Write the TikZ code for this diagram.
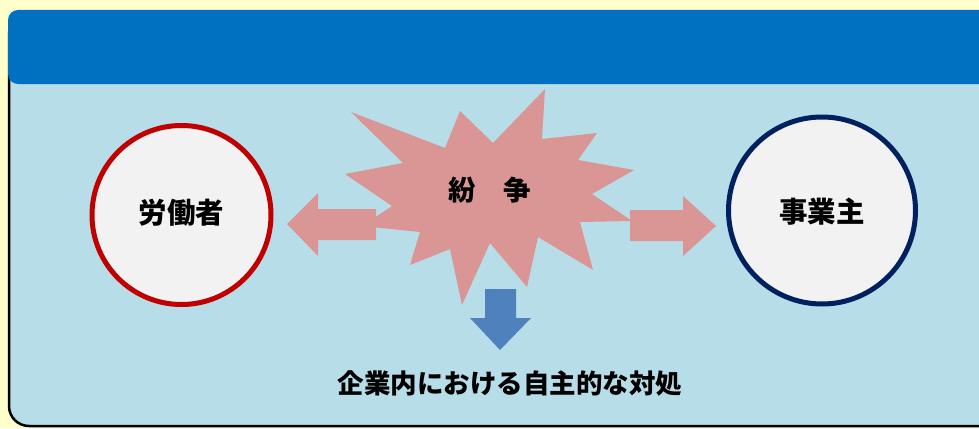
\documentclass[tikz,border=0pt]{standalone}
\usepackage{fontspec}
\newfontfamily\cjk{Noto Sans CJK JP}
\definecolor{bgyellow}{HTML}{FFFFCC}
\definecolor{panelblue}{HTML}{B7DDE8}
\definecolor{headerblue}{HTML}{0070C0}
\definecolor{burstpink}{HTML}{D99694}
\definecolor{downblue}{HTML}{4F81BD}
\definecolor{workerred}{HTML}{C00000}
\definecolor{bossnavy}{HTML}{002060}
\definecolor{circlegray}{HTML}{F2F2F2}
\tikzset{
  party/.style={circle, inner sep=0pt, fill=circlegray, line width=5pt},
  party text/.style={inner sep=0pt, font=\cjk\bfseries\fontsize{28.5}{31}\selectfont},
  label text/.style={inner sep=0pt, font=\cjk\bfseries\fontsize{27.5}{30}\selectfont},
  pinkshape/.style={fill=burstpink},
}
\begin{document}
\begin{tikzpicture}[x=1pt,y=-1pt]
\useasboundingbox (0,0) rectangle (979,428);
\fill[bgyellow] (0,0) rectangle (979,428);
\begin{scope}
\clip (0,0) rectangle (979,428);
\draw[line width=2.5pt, fill=panelblue, rounded corners=20pt] (9,14) rectangle (1010,426);
\fill[headerblue, rounded corners=10pt] (8,10) rectangle (1010,84);
\end{scope}
% burst
\fill[pinkshape] (351,112) -- (445,148) -- (460,111) -- (493,143) -- (545,89)
  -- (542,139) -- (597,133) -- (578,160) -- (634,170) -- (592,194)
  -- (632,221) -- (580,222) -- (593,270) -- (538,237) -- (527,287)
  -- (490,243) -- (462,305) -- (450,249) -- (410,265) -- (420,232)
  -- (362,226) -- (392,206) -- (345,174) -- (403,163) -- cycle;
\node[label text] (conflict) at (490,190) {紛　争};
% parties
\node[party, draw=workerred, minimum size=179pt] (worker) at (181.5,215) {};
\node[party text] at (181.5,213) {労働者};
\node[party, draw=bossnavy, minimum size=187pt] (employer) at (822,210.5) {};
\node[party text] at (822,212) {事業主};
% side arrows
\fill[pinkshape] (287,224) -- (318,193) -- (318,209) -- (376,209) -- (376,240)
  -- (318,240) -- (318,256) -- cycle;
\fill[pinkshape] (630,210) -- (683,210) -- (683,196) -- (716,226) -- (683,256)
  -- (683,241) -- (630,241) -- cycle;
% down arrow
\fill[downblue] (485,289) -- (516,289) -- (516,318) -- (531,318) -- (500,350)
  -- (470,318) -- (485,318) -- cycle;
\node[label text, font=\cjk\bfseries\fontsize{26.5}{29}\selectfont] (action) at (510,383) {企業内における自主的な対処};
\end{tikzpicture}
\end{document}
